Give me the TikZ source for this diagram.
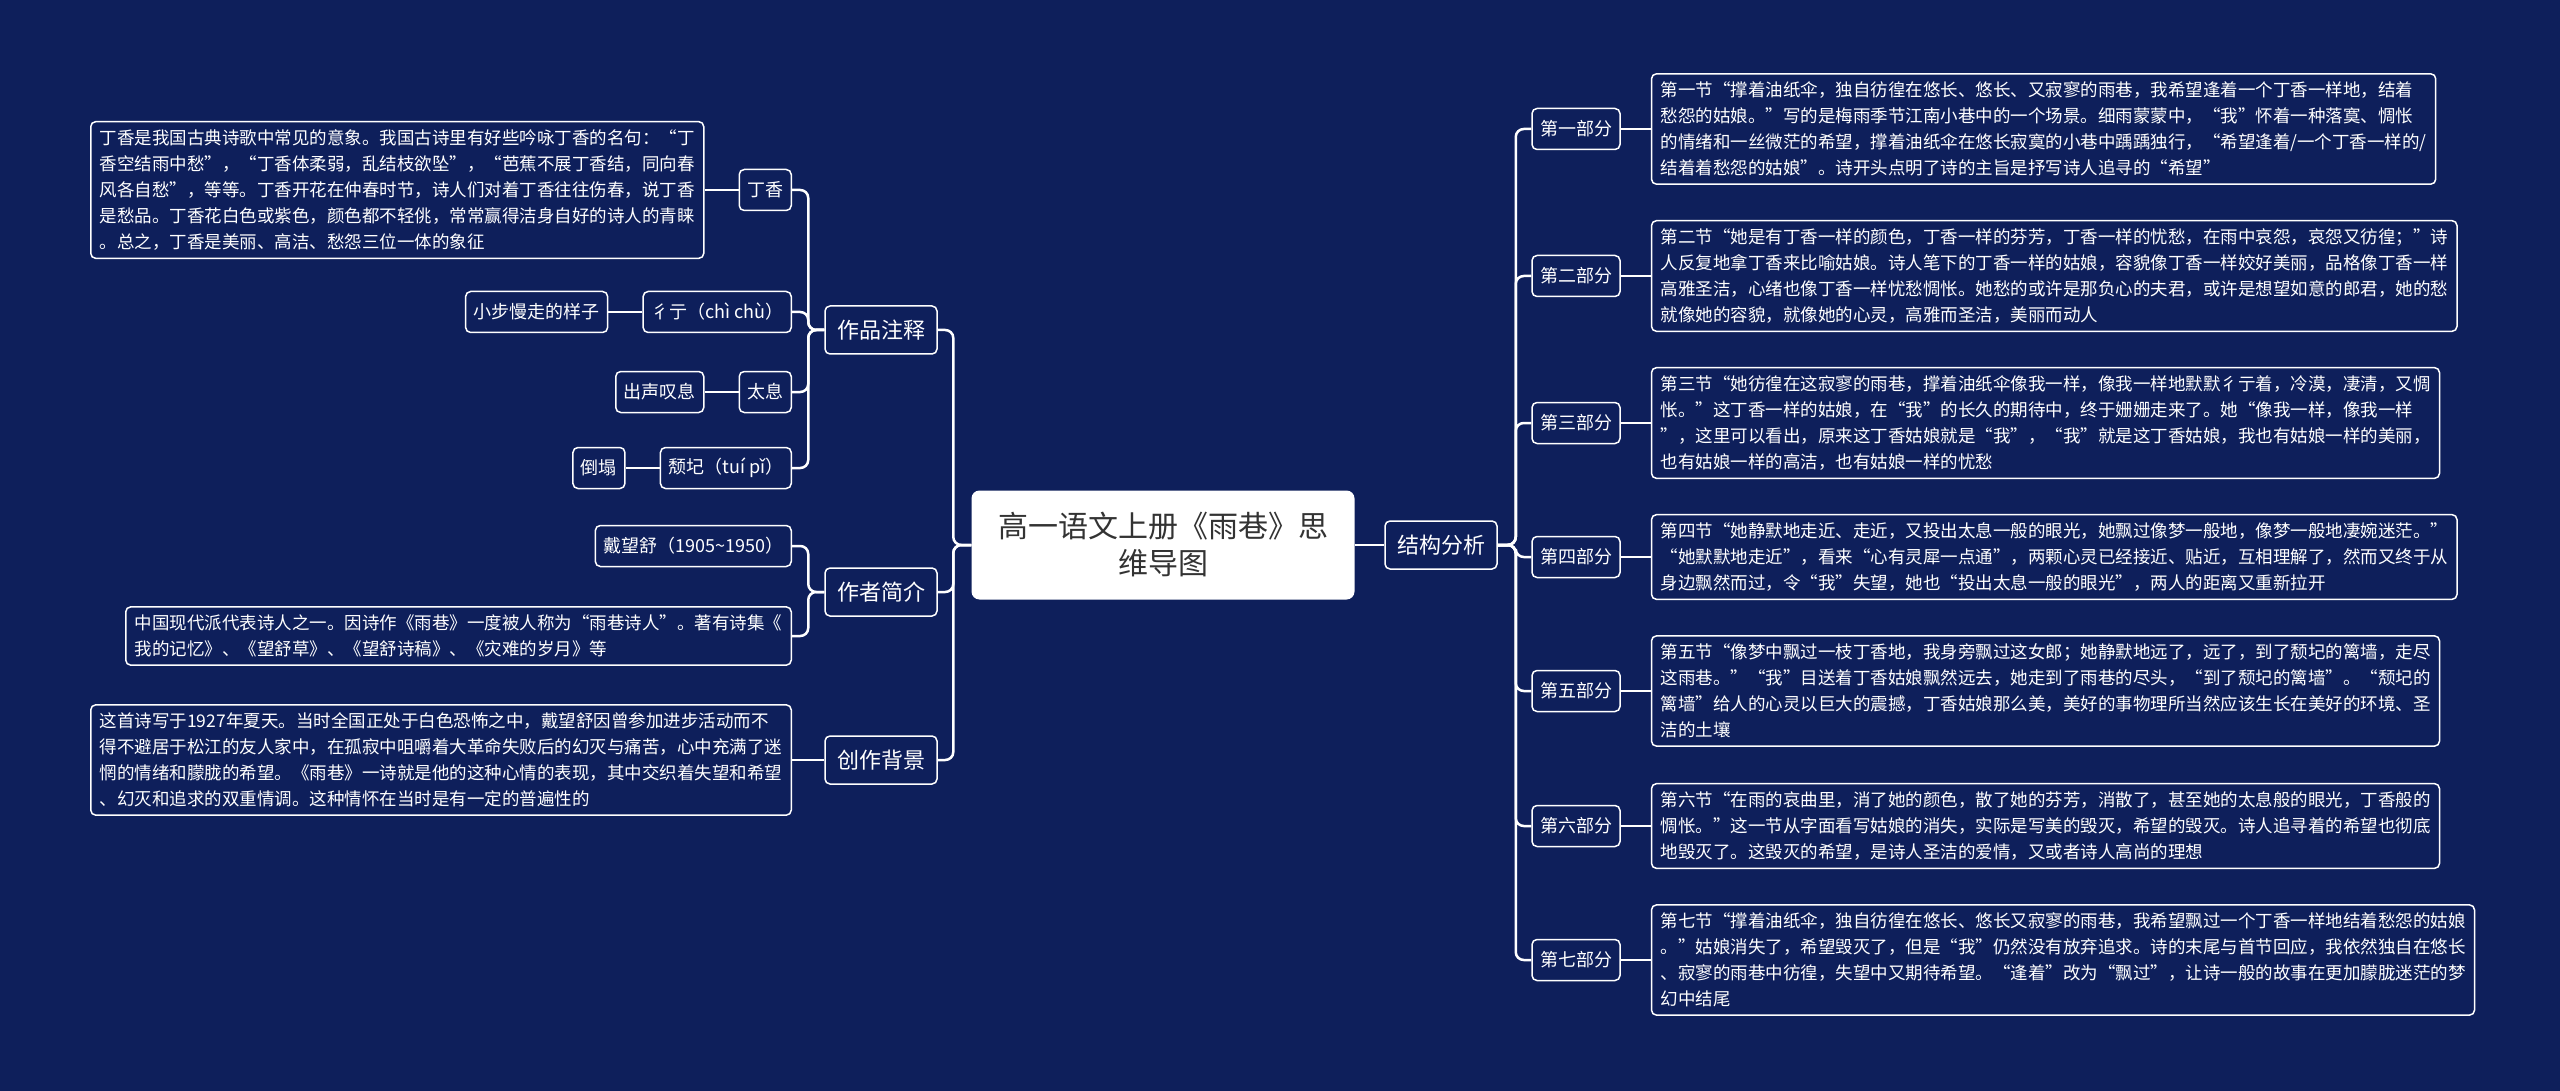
\documentclass[tikz,border=0pt]{standalone}
\usepackage{fontspec}
\setmainfont{Noto Sans CJK SC}
\usetikzlibrary{positioning}

\definecolor{navy}{HTML}{0E1F5B}
\definecolor{titlegray}{HTML}{333333}

\begin{document}
\begin{tikzpicture}[
    x=1pt, y=-1pt,
    link/.style={draw=white, line width=2.5pt, rounded corners=8pt},
    title/.style={
        fill=white, text=titlegray,
        rounded corners=8pt,
        align=center,
        font=\fontsize{30}{37}\selectfont,
        minimum width=383pt, minimum height=109pt
    },
    topic/.style={
        draw=white, fill=navy, text=white, line width=1.5pt,
        rounded corners=5pt,
        font=\fontsize{22}{28}\selectfont,
        minimum width=112pt, minimum height=48pt
    },
    part/.style={
        draw=white, fill=navy, text=white, line width=1.5pt,
        rounded corners=5pt,
        font=\fontsize{18}{24}\selectfont,
        inner xsep=8pt, minimum height=41pt
    },
    note/.style={
        draw=white, fill=navy, text=white, line width=1.5pt,
        rounded corners=5pt,
        align=left,
        font=\fontsize{17.5}{26}\selectfont,
        inner xsep=9pt, inner ysep=8pt
    },
    node distance=30pt
]

% Background
\fill[navy] (0,0) rectangle (2560,1091);
\useasboundingbox (0,0) rectangle (2560,1091);

% Nodes
\node[title] (root) at (1163,545) {高一语文上册《雨巷》思\\维导图};
\node[topic] (jiegou) at (1441,545) {结构分析};
\node[topic] (zuopin) at (881,330) {作品注释};
\node[topic] (zuozhe) at (881,592) {作者简介};
\node[topic] (beijing) at (881,760) {创作背景};

% Right: parts
\node[part] (p1) at (1576,129) {第一部分};
\node[part] (p2) at (1576,276) {第二部分};
\node[part] (p3) at (1576,423) {第三部分};
\node[part] (p4) at (1576,557) {第四部分};
\node[part] (p5) at (1576,691) {第五部分};
\node[part] (p6) at (1576,826) {第六部分};
\node[part] (p7) at (1576,960) {第七部分};

\node[note, right=30pt of p1] (t1) {第一节“撑着油纸伞，独自彷徨在悠长、悠长、又寂寥的雨巷，我希望逢着一个丁香一样地，结着\\
愁怨的姑娘。”写的是梅雨季节江南小巷中的一个场景。细雨蒙蒙中，“我”怀着一种落寞、惆怅\\
的情绪和一丝微茫的希望，撑着油纸伞在悠长寂寞的小巷中踽踽独行，“希望逢着/一个丁香一样的/\\
结着着愁怨的姑娘”。诗开头点明了诗的主旨是抒写诗人追寻的“希望”};
\node[note, right=30pt of p2] (t2) {第二节“她是有丁香一样的颜色，丁香一样的芬芳，丁香一样的忧愁，在雨中哀怨，哀怨又彷徨；”诗\\
人反复地拿丁香来比喻姑娘。诗人笔下的丁香一样的姑娘，容貌像丁香一样姣好美丽，品格像丁香一样\\
高雅圣洁，心绪也像丁香一样忧愁惆怅。她愁的或许是那负心的夫君，或许是想望如意的郎君，她的愁\\
就像她的容貌，就像她的心灵，高雅而圣洁，美丽而动人};
\node[note, right=30pt of p3] (t3) {第三节“她彷徨在这寂寥的雨巷，撑着油纸伞像我一样，像我一样地默默彳亍着，冷漠，凄清，又惆\\
怅。”这丁香一样的姑娘，在“我”的长久的期待中，终于姗姗走来了。她“像我一样，像我一样\\
”，这里可以看出，原来这丁香姑娘就是“我”，“我”就是这丁香姑娘，我也有姑娘一样的美丽，\\
也有姑娘一样的高洁，也有姑娘一样的忧愁};
\node[note, right=30pt of p4] (t4) {第四节“她静默地走近、走近，又投出太息一般的眼光，她飘过像梦一般地，像梦一般地凄婉迷茫。”\\
“她默默地走近”，看来“心有灵犀一点通”，两颗心灵已经接近、贴近，互相理解了，然而又终于从\\
身边飘然而过，令“我”失望，她也“投出太息一般的眼光”，两人的距离又重新拉开};
\node[note, right=30pt of p5] (t5) {第五节“像梦中飘过一枝丁香地，我身旁飘过这女郎；她静默地远了，远了，到了颓圮的篱墙，走尽\\
这雨巷。”“我”目送着丁香姑娘飘然远去，她走到了雨巷的尽头，“到了颓圮的篱墙”。“颓圮的\\
篱墙”给人的心灵以巨大的震撼，丁香姑娘那么美，美好的事物理所当然应该生长在美好的环境、圣\\
洁的土壤};
\node[note, right=30pt of p6] (t6) {第六节“在雨的哀曲里，消了她的颜色，散了她的芬芳，消散了，甚至她的太息般的眼光，丁香般的\\
惆怅。”这一节从字面看写姑娘的消失，实际是写美的毁灭，希望的毁灭。诗人追寻着的希望也彻底\\
地毁灭了。这毁灭的希望，是诗人圣洁的爱情，又或者诗人高尚的理想};
\node[note, right=30pt of p7] (t7) {第七节“撑着油纸伞，独自彷徨在悠长、悠长又寂寥的雨巷，我希望飘过一个丁香一样地结着愁怨的姑娘\\
。”姑娘消失了，希望毁灭了，但是“我”仍然没有放弃追求。诗的末尾与首节回应，我依然独自在悠长\\
、寂寥的雨巷中彷徨，失望中又期待希望。“逢着”改为“飘过”，让诗一般的故事在更加朦胧迷茫的梦\\
幻中结尾};

% Left: notes on the poem
\node[part, anchor=east] (dingxiang) at (792,190) {丁香};
\node[note, left=34pt of dingxiang] (dxnote) {丁香是我国古典诗歌中常见的意象。我国古诗里有好些吟咏丁香的名句：“丁\\
香空结雨中愁”，“丁香体柔弱，乱结枝欲坠”，“芭蕉不展丁香结，同向春\\
风各自愁”，等等。丁香开花在仲春时节，诗人们对着丁香往往伤春，说丁香\\
是愁品。丁香花白色或紫色，颜色都不轻佻，常常赢得洁身自好的诗人的青睐\\
。总之，丁香是美丽、高洁、愁怨三位一体的象征};
\node[part, anchor=east] (chichu) at (792,312) {彳亍（chì chù）};
\node[part, left=34pt of chichu] (chichunote) {小步慢走的样子};
\node[part, anchor=east] (taixi) at (792,392) {太息};
\node[part, left=34pt of taixi] (taixinote) {出声叹息};
\node[part, anchor=east] (tuipi) at (792,468) {颓圮（tuí pǐ）};
\node[part, left=34pt of tuipi] (tuipinote) {倒塌};

% Left: author and background
\node[part, anchor=east] (dai) at (792,546) {戴望舒（1905\textasciitilde1950）};
\node[note, anchor=east] (daibio) at (792,636) {中国现代派代表诗人之一。因诗作《雨巷》一度被人称为“雨巷诗人”。著有诗集《\\
我的记忆》、《望舒草》、《望舒诗稿》、《灾难的岁月》等};
\node[note, anchor=east] (bjnote) at (792,760) {这首诗写于1927年夏天。当时全国正处于白色恐怖之中，戴望舒因曾参加进步活动而不\\
得不避居于松江的友人家中，在孤寂中咀嚼着大革命失败后的幻灭与痛苦，心中充满了迷\\
惘的情绪和朦胧的希望。《雨巷》一诗就是他的这种心情的表现，其中交织着失望和希望\\
、幻灭和追求的双重情调。这种情怀在当时是有一定的普遍性的};

% Edges
\draw[link] (root.east) -- (jiegou.west);
\foreach \p/\t in {p1/t1,p2/t2,p3/t3,p4/t4,p5/t5,p6/t6,p7/t7} {
    \draw[link] (jiegou.east) -- ++(18,0) |- (\p.west);
    \draw[link] (\p.east) -- (\t.west);
}
\foreach \b in {zuopin,zuozhe,beijing}
    \draw[link] (root.west) -- ++(-18,0) |- (\b.east);
\foreach \c in {dingxiang,chichu,taixi,tuipi}
    \draw[link] (zuopin.west) -- ++(-16,0) |- (\c.east);
\draw[link] (dingxiang.west) -- (dxnote.east);
\draw[link] (chichu.west) -- (chichunote.east);
\draw[link] (taixi.west) -- (taixinote.east);
\draw[link] (tuipi.west) -- (tuipinote.east);
\foreach \c in {dai,daibio}
    \draw[link] (zuozhe.west) -- ++(-16,0) |- (\c.east);
\draw[link] (beijing.west) -- (bjnote.east);

\end{tikzpicture}
\end{document}
